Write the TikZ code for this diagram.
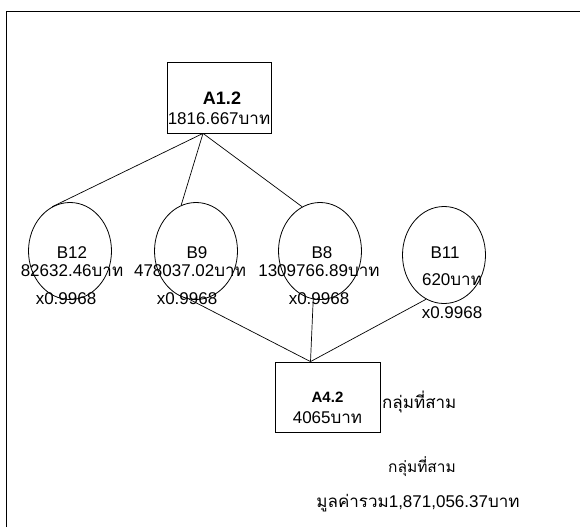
\documentclass[tikz,border=0pt]{standalone}
\usepackage{fontspec}
\setmainfont{Liberation Sans}
\newfontfamily\thaifont[Script=Thai]{Loma}
\usetikzlibrary{shapes.geometric}
\newcommand{\thai}[1]{{\thaifont #1}}
\newcommand{\baht}{\thai{บาท}}

\tikzset{
  every node/.style={inner sep=0pt, font=\fontsize{17}{19}\selectfont},
  groupbox/.style={draw, line width=0.8pt, minimum width=104pt, minimum height=71pt},
  branch/.style={draw, ellipse, line width=0.8pt, minimum width=83pt, minimum height=97pt},
  boxname/.style={font=\bfseries\fontsize{18}{20}\selectfont},
  link/.style={line width=0.7pt}
}

\begin{document}
\begin{tikzpicture}[x=1pt, y=-1pt]
        \useasboundingbox (0, 0) rectangle (580, 527);
        % frame
        \draw[line width=0.8pt] (6, 527) -- (6, 11) -- (580, 11);

        % top group
        \node[groupbox] (a12) at (219, 97.5) {};
        \node[boxname] (a12n) at (222, 98) {A1.2};
        \node (a12v) at (219, 119) {1816.667\baht};

        % branches
        \node[branch] (b12) at (70, 251) {};
        \node[branch] (b9) at (196, 251) {};
        \node[branch] (b8) at (320, 251) {};
        \node[branch] (b11) at (444, 255) {};

        \node (b12n) at (72, 253) {B12};
        \node (b12v) at (72, 271) {82632.46\baht};
        \node (b12x) at (66, 299) {x0.9968};

        \node (b9n) at (197, 253) {B9};
        \node (b9v) at (190, 271) {478037.02\baht};
        \node (b9x) at (187, 299) {x0.9968};

        \node (b8n) at (322, 253) {B8};
        \node (b8v) at (319, 271) {1309766.89\baht};
        \node (b8x) at (319, 299) {x0.9968};

        \node (b11n) at (445, 253) {B11};
        \node (b11v) at (452, 280) {620\baht};
        \node (b11x) at (452, 313) {x0.9968};

        % bottom group
        \node[groupbox, minimum width=105pt, minimum height=70pt] (a42) at (327.5, 397) {};
        \node[boxname, font=\bfseries\fontsize{15}{17}\selectfont] (a42n) at (327.5, 397) {A4.2};
        \node (a42v) at (327.5, 418) {4065\baht};
        \node[anchor=west] (grp) at (382, 402) {\thai{กลุ่มที่สาม}};
        \node[font=\fontsize{15.5}{17}\selectfont] (grp2) at (422, 467) {\thai{กลุ่มที่สาม}};
        \node (total) at (418, 503) {\thai{มูลค่ารวม}1,871,056.37\baht};

        % connectors
        \coordinate (up) at ([xshift=-16pt]a12.south);
        \coordinate (down) at ([xshift=-17pt]a42.north);
        \draw[link] (up) -- (b12.112);
        \draw[link] (up) -- (b9.108);
        \draw[link] (up) -- (b8.112);
        \draw[link] (b9.262) -- (down);
        \draw[link] (b8.262) -- (down);
        \draw[link] (b11.248) -- (down);
\end{tikzpicture}
\end{document}
